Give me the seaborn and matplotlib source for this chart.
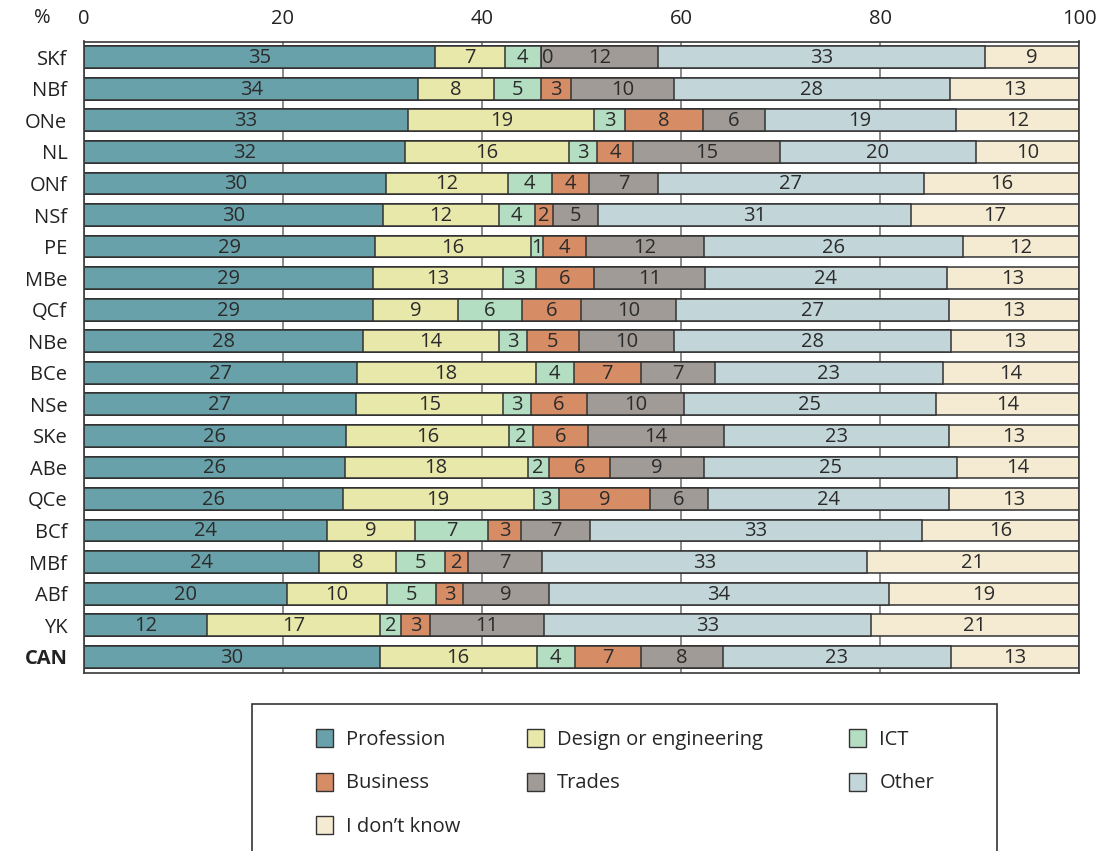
import seaborn as sns
import matplotlib.pyplot as plt
import pandas as pd
from matplotlib.patches import Patch, Rectangle

# regions, top to bottom
regions = ['SKf', 'NBf', 'ONe', 'NL', 'ONf', 'NSf', 'PE', 'MBe', 'QCf', 'NBe',
           'BCe', 'NSe', 'SKe', 'ABe', 'QCe', 'BCf', 'MBf', 'ABf', 'YK', 'CAN']

# bar lengths (%)
profession = [35.3, 33.6, 32.6, 32.3, 30.4, 30.1, 29.2, 29.0, 29.0, 28.0,
              27.4, 27.3, 26.3, 26.2, 26.0, 24.4, 23.6, 20.4, 12.4, 29.7]
design = [7.0, 7.6, 18.7, 16.4, 12.2, 11.6, 15.7, 13.1, 8.6, 13.7,
          18.0, 14.8, 16.4, 18.4, 19.2, 8.9, 7.8, 10.1, 17.3, 15.8]
ict = [3.6, 4.7, 3.1, 2.9, 4.4, 3.6, 1.2, 3.3, 6.4, 2.8,
       3.8, 2.8, 2.4, 2.1, 2.5, 7.3, 4.9, 4.9, 2.2, 3.8]
business = [0.0, 3.0, 7.8, 3.6, 3.8, 1.8, 4.4, 5.9, 5.9, 5.2,
            6.8, 5.7, 5.6, 6.2, 9.2, 3.3, 2.3, 2.7, 2.9, 6.7]
trades = [11.8, 10.4, 6.2, 14.7, 6.9, 4.6, 11.8, 11.1, 9.6, 9.6,
          7.4, 9.7, 13.6, 9.4, 5.8, 7.0, 7.4, 8.6, 11.4, 8.2]
other = [32.9, 27.7, 19.2, 19.7, 26.7, 31.4, 26.0, 24.3, 27.4, 27.8,
         22.9, 25.3, 22.6, 25.4, 24.2, 33.3, 32.7, 34.2, 32.9, 22.9]
dont_know = [9.4, 13.0, 12.4, 10.4, 15.6, 16.9, 11.7, 13.3, 13.1, 12.9,
             13.7, 14.4, 13.1, 12.3, 13.1, 15.8, 21.3, 19.1, 20.9, 12.9]

# numbers printed in the bars
profession_lbl = [35, 34, 33, 32, 30, 30, 29, 29, 29, 28, 27, 27, 26, 26, 26, 24, 24, 20, 12, 30]
design_lbl = [7, 8, 19, 16, 12, 12, 16, 13, 9, 14, 18, 15, 16, 18, 19, 9, 8, 10, 17, 16]
ict_lbl = [4, 5, 3, 3, 4, 4, 1, 3, 6, 3, 4, 3, 2, 2, 3, 7, 5, 5, 2, 4]
business_lbl = [0, 3, 8, 4, 4, 2, 4, 6, 6, 5, 7, 6, 6, 6, 9, 3, 2, 3, 3, 7]
trades_lbl = [12, 10, 6, 15, 7, 5, 12, 11, 10, 10, 7, 10, 14, 9, 6, 7, 7, 9, 11, 8]
other_lbl = [33, 28, 19, 20, 27, 31, 26, 24, 27, 28, 23, 25, 23, 25, 24, 33, 33, 34, 33, 23]
dont_know_lbl = [9, 13, 12, 10, 16, 17, 12, 13, 13, 13, 14, 14, 13, 14, 13, 16, 21, 19, 21, 13]

categories = ['Profession', 'Design or engineering', 'ICT', 'Business',
              'Trades', 'Other', 'I don\u2019t know']
colors = ['#68a1a9', '#e9e8ab', '#b4dec1', '#d68d66', '#a09b97', '#c2d5d9', '#f5ebd2']

df = pd.DataFrame({'region': regions, 'Profession': profession,
                   'Design or engineering': design, 'ICT': ict,
                   'Business': business, 'Trades': trades, 'Other': other,
                   'I don\u2019t know': dont_know})
labels = pd.DataFrame({'Profession': profession_lbl, 'Design or engineering': design_lbl,
                       'ICT': ict_lbl, 'Business': business_lbl, 'Trades': trades_lbl,
                       'Other': other_lbl, 'I don\u2019t know': dont_know_lbl})
cum = df[categories].cumsum(axis=1)

sns.set_style('white')
plt.rcParams['font.family'] = ['Open Sans', 'DejaVu Sans']
edge = '#333333'
fs = 14.5

fig = plt.figure(figsize=(11.15, 8.51), dpi=100)
ax = fig.add_axes([84 / 1115, 1 - 672.5 / 851, 995 / 1115, 631 / 851])

# draw the cumulative totals from the longest down so the segments stack
for cat, col in reversed(list(zip(categories, colors))):
    sns.barplot(x=cum[cat], y=df['region'], orient='h', color=col, saturation=1,
                errorbar=None, width=0.69, edgecolor=edge, linewidth=1.1, ax=ax)

for i in range(len(regions)):
    start = 0
    for cat in categories:
        w = df[cat][i]
        if w == 0:
            ax.text(start + 0.15, i + 0.03, str(labels[cat][i]), ha='left', va='center',
                    fontsize=fs, color='#2b2b2b')
        else:
            ax.text(start + w / 2, i + 0.03, str(labels[cat][i]), ha='center', va='center',
                    fontsize=fs, color='#2b2b2b')
        start += w

ax.set_xlim(0, 100)
ax.set_ylim(19.5, -0.5)
ax.set_xticks([0, 20, 40, 60, 80, 100])
ax.xaxis.tick_top()
ax.tick_params(axis='both', length=0, labelsize=fs, colors='#222222')
ax.tick_params(axis='x', pad=9)
ax.tick_params(axis='y', pad=12)
ax.set_xlabel('')
ax.set_ylabel('')
ax.set_axisbelow(True)
ax.xaxis.grid(True, color='#808080', linewidth=1.3)
ax.yaxis.grid(False)
for s in ax.spines.values():
    s.set_color('#3a3a3a')
    s.set_linewidth(1.2)
ax.get_yticklabels()[-1].set_fontweight('bold')

fig.text(42 / 1115, 1 - 18 / 851, '%', ha='center', va='center', fontsize=fs, color='#222222')

# legend box and entries, one column at a time
fig.patches.append(Rectangle((252 / 1115, 1 - 860 / 851), 745 / 1115, 156 / 851,
                             transform=fig.transFigure, fill=False,
                             edgecolor='#333333', linewidth=1.2))
handles = [Patch(facecolor=c, edgecolor=edge, linewidth=1.0) for c in colors]
columns = [([0, 3, 6], 306), ([1, 4], 517), ([2, 5], 839)]
for idx, xpos in columns:
    fig.legend([handles[k] for k in idx], [categories[k] for k in idx],
               loc='upper left', bbox_to_anchor=(xpos / 1115, 1 - 719 / 851),
               frameon=False, fontsize=fs, borderpad=0, handlelength=0.85,
               handleheight=1.0, handletextpad=0.65, labelspacing=1.12)

plt.savefig('out.png', dpi=100)
